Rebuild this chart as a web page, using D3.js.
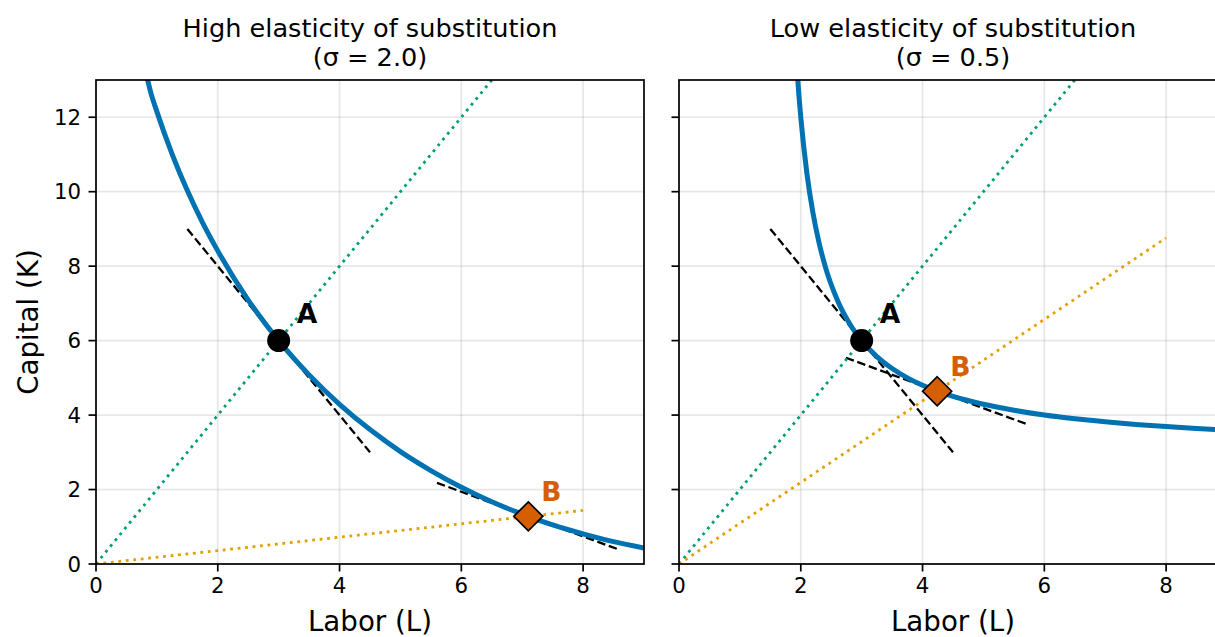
<!DOCTYPE html>
<html>
<head>
<meta charset="utf-8">
<script src="https://cdn.jsdelivr.net/npm/d3@7"></script>
<style>
  body { margin: 0; background: #fff; }
  text { font-family: "DejaVu Sans", sans-serif; }
</style>
</head>
<body>
<div id="chart"></div>
<script>
// isoquant points (Labor, Capital)
var highCurveL = [0.82, 0.9, 1.0, 1.25, 1.5, 1.75, 2.0, 2.5, 3.0, 3.5, 4.0, 4.5, 5.0, 5.5, 6.0, 6.5, 7.0, 7.5, 8.0, 8.5, 9.0];
var highCurveK = [13.2, 12.66, 12.15, 11.01, 10.03, 9.17, 8.41, 7.09, 6.0, 5.08, 4.29, 3.61, 3.02, 2.51, 2.06, 1.67, 1.34, 1.05, 0.81, 0.6, 0.43];
var lowCurveL = [1.93, 1.97, 2.0, 2.1, 2.2, 2.3, 2.4, 2.6, 2.8, 3.0, 3.25, 3.5, 3.75, 4.0, 4.5, 5.0, 5.5, 6.0, 6.5, 7.0, 7.5, 8.0, 8.5, 9.0];
var lowCurveK = [13.47, 12.57, 12.0, 10.5, 9.43, 8.63, 8.0, 7.09, 6.46, 6.0, 5.57, 5.25, 5.0, 4.8, 4.5, 4.29, 4.13, 4.0, 3.9, 3.82, 3.75, 3.69, 3.64, 3.6];

var pointA = [3, 6];
var highPointB = [7.1, 1.28];
var lowPointB = [4.24, 4.64];

// rays from the origin
var rayA = [[0, 0], [6.5, 13]];
var highRayB = [[0, 0], [8, 1.44]];
var lowRayB = [[0, 0], [8, 8.76]];

// tangent (price) lines
var tangentA = [[1.5, 9], [4.5, 3]];
var highTangentB = [[5.6, 2.18], [8.6, 0.38]];
var lowTangentB = [[2.74, 5.54], [5.74, 3.74]];

var xTicks = [0, 2, 4, 6, 8];
var yTicks = [0, 2, 4, 6, 8, 10, 12];
var titles = [["High elasticity of substitution", "(σ = 2.0)"], ["Low elasticity of substitution", "(σ = 0.5)"]];

var blue = "#0072B2", green = "#009E73", yellow = "#E69F00", orange = "#D55E00";

var W = 1215, H = 637;
var svg = d3.select("#chart").append("svg").attr("width", W).attr("height", H);

var plotTop = 80, plotBottom = 564, panelW = 548;

function renderPanel(i, left, curveL, curveK, pointB, rayB, tangentB) {
  var x = d3.scaleLinear([0, 9], [left, left + panelW]);
  var y = d3.scaleLinear([0, 13], [plotBottom, plotTop]);
  var g = svg.append("g");

  g.append("clipPath").attr("id", "clip" + i)
    .append("rect").attr("x", left).attr("y", plotTop).attr("width", panelW).attr("height", plotBottom - plotTop);

  // grid
  g.append("g").selectAll("line").data(xTicks).join("line")
    .attr("x1", d => x(d)).attr("x2", d => x(d)).attr("y1", plotTop).attr("y2", plotBottom)
    .style("stroke", "#b0b0b0").style("stroke-opacity", 0.3).style("stroke-width", 1.7);
  g.append("g").selectAll("line").data(yTicks).join("line")
    .attr("y1", d => y(d)).attr("y2", d => y(d)).attr("x1", left).attr("x2", left + panelW)
    .style("stroke", "#b0b0b0").style("stroke-opacity", 0.3).style("stroke-width", 1.7);

  var line = d3.line().x(d => x(d[0])).y(d => y(d[1]));
  var plot = g.append("g").attr("clip-path", "url(#clip" + i + ")");

  [tangentA, tangentB].forEach(function (t) {
    plot.append("path").attr("d", line(t))
      .style("fill", "none").style("stroke", "#000").style("stroke-width", 2.3)
      .style("stroke-dasharray", "8.5,3.7");
  });

  plot.append("path").attr("d", line(rayA))
    .style("fill", "none").style("stroke", green).style("stroke-width", 2.8)
    .style("stroke-dasharray", "2.8,4.7");
  plot.append("path").attr("d", line(rayB))
    .style("fill", "none").style("stroke", yellow).style("stroke-width", 2.8)
    .style("stroke-dasharray", "2.8,4.7");

  var pts = curveL.map((d, j) => [d, curveK[j]]);
  plot.append("path").attr("d", line.curve(d3.curveMonotoneX)(pts))
    .style("fill", "none").style("stroke", blue).style("stroke-width", 5);
  line.curve(d3.curveLinear);

  // markers
  g.append("circle").attr("cx", x(pointA[0])).attr("cy", y(pointA[1])).attr("r", 11.5)
    .style("fill", "#000");
  var s = 14.5;
  var bx = x(pointB[0]), by = y(pointB[1]);
  g.append("path")
    .attr("d", `M${bx},${by - s}L${bx + s},${by}L${bx},${by + s}L${bx - s},${by}Z`)
    .style("fill", orange).style("stroke", "#000").style("stroke-width", 1.7);

  g.append("text").attr("x", x(pointA[0]) + 18).attr("y", y(pointA[1]) - 18)
    .style("font-size", "26.5px").style("font-weight", "bold").text("A");
  g.append("text").attr("x", bx + 13).attr("y", by - 15)
    .style("font-size", "26.5px").style("font-weight", "bold").style("fill", orange).text("B");

  // frame
  g.append("rect").attr("x", left).attr("y", plotTop).attr("width", panelW).attr("height", plotBottom - plotTop)
    .style("fill", "none").style("stroke", "#000").style("stroke-width", 1.7);

  // ticks
  g.append("g").selectAll("line").data(xTicks).join("line")
    .attr("x1", d => x(d)).attr("x2", d => x(d)).attr("y1", plotBottom).attr("y2", plotBottom + 7.5)
    .style("stroke", "#000").style("stroke-width", 1.7);
  g.append("g").selectAll("line").data(yTicks).join("line")
    .attr("y1", d => y(d)).attr("y2", d => y(d)).attr("x1", left - 7.5).attr("x2", left)
    .style("stroke", "#000").style("stroke-width", 1.7);

  g.append("g").selectAll("text").data(xTicks).join("text")
    .attr("x", d => x(d)).attr("y", 593).attr("text-anchor", "middle")
    .style("font-size", "21.3px").text(d => d);
  if (i == 0) {
    g.append("g").selectAll("text").data(yTicks).join("text")
      .attr("x", left - 15).attr("y", d => y(d) + 7.8).attr("text-anchor", "end")
      .style("font-size", "21.3px").text(d => d);
    g.append("text")
      .attr("transform", `translate(38, ${(plotTop + plotBottom) / 2}) rotate(-90)`)
      .attr("text-anchor", "middle").style("font-size", "27.7px").text("Capital (K)");
  }

  g.append("text").attr("x", left + panelW / 2).attr("y", 631).attr("text-anchor", "middle")
    .style("font-size", "27.7px").text("Labor (L)");

  g.append("text").attr("x", left + panelW / 2).attr("y", 37).attr("text-anchor", "middle")
    .style("font-size", "25.6px").text(titles[i][0]);
  g.append("text").attr("x", left + panelW / 2).attr("y", 66).attr("text-anchor", "middle")
    .style("font-size", "25.6px").text(titles[i][1]);
}

renderPanel(0, 96, highCurveL, highCurveK, highPointB, highRayB, highTangentB);
renderPanel(1, 679, lowCurveL, lowCurveK, lowPointB, lowRayB, lowTangentB);
</script>
</body>
</html>
